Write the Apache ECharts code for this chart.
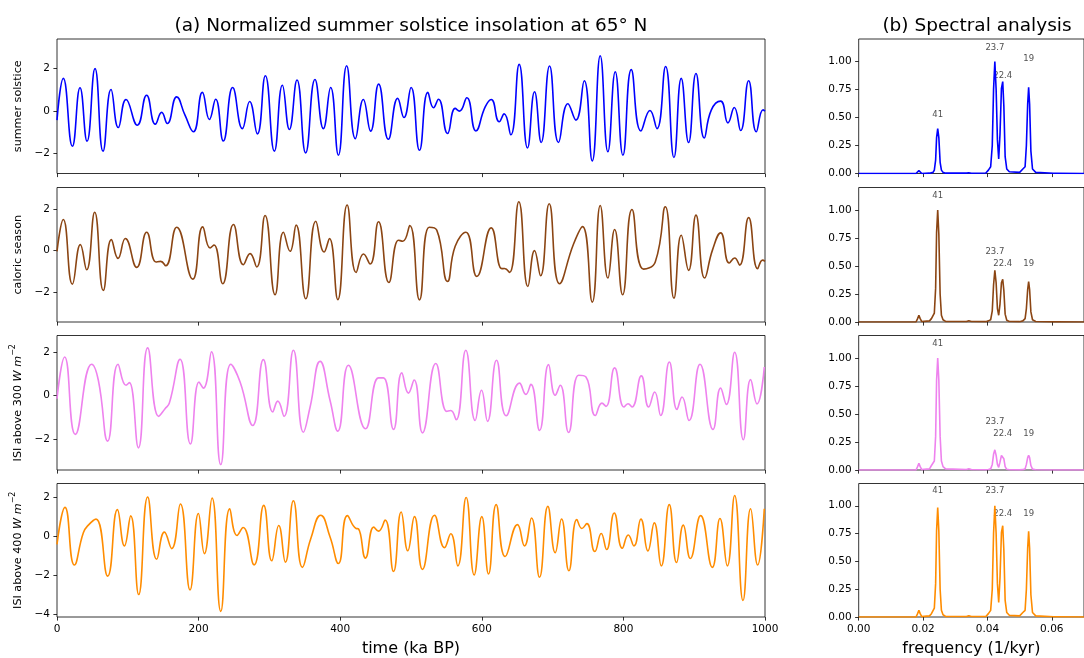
<!DOCTYPE html>
<html>
<head>
<meta charset="utf-8">
<script src="https://cdn.jsdelivr.net/npm/echarts@6/dist/echarts.min.js"></script>
<style>
  html, body { margin: 0; padding: 0; background: #fff; }
  #chart { width: 1084px; height: 658px; }
</style>
</head>
<body>
<div id="chart"></div>
<script>
// time series, read as turning points (ka BP, normalized value)
const solsticeTime = [0, 8.9, 21.7, 32.5, 42.4, 53.7, 65, 76.3, 86.6, 97.5, 113.5, 126.6, 138.9, 147.8, 155.8, 169, 180.8, 192.6, 205.3, 215.2, 224.1, 234.9, 248.1, 261.8, 272.1, 283, 294.3, 307, 318.3, 328.2, 339, 351.2, 364.4, 376.2, 386.5, 397.4, 409.1, 421.4, 432.7, 443, 454.3, 468, 481.2, 490.1, 500.1, 512, 523.8, 531.8, 538.8, 551.6, 562.4, 568.5, 578.9, 591.6, 604.8, 613.3, 624.6, 631.6, 641, 652.8, 664.6, 674.5, 683.9, 695.7, 708.4, 721.6, 732.9, 744.7, 756, 767.3, 778.1, 788.5, 799.3, 811.1, 824.7, 837.5, 847.4, 859.6, 871.4, 881.7, 892.1, 902.5, 914.2, 924.1, 937.3, 947.7, 956.6, 965.6, 976.9, 987.7, 997.1, 1000];
const solsticeValue = [-0.42, 1.54, -1.65, 1.10, -1.41, 2.0, -1.88, 1.02, -0.77, 0.55, -0.66, 0.75, -0.61, -0.06, -0.58, 0.67, -0.19, -0.97, 0.88, -0.39, 0.56, -1.40, 1.11, -0.82, 0.45, -1.07, 1.66, -1.88, 1.22, -0.86, 1.46, -1.96, 1.49, -0.82, 1.11, -2.07, 2.13, -1.29, 0.55, -0.94, 1.27, -1.32, 0.60, -0.30, 1.11, -1.84, 0.88, 0.16, 0.56, -1.05, 0.13, 0.0, 0.63, -0.93, 0.2, 0.55, -0.50, -0.13, -1.11, 2.20, -1.73, 0.91, -1.47, 2.12, -1.47, 0.35, -0.42, 1.43, -2.34, 2.60, -1.91, 1.85, -2.07, 1.95, -0.93, 0.03, -0.82, 2.10, -2.18, 1.54, -1.47, 1.77, -1.26, 0.05, 0.47, -0.55, 0.17, -0.91, 1.43, -0.97, 0.06, 0.0];

const caloricTime = [0, 8.9, 21.7, 33, 41.9, 53.2, 65.4, 76.8, 86.2, 96.5, 112.6, 126.7, 139.9, 146.5, 153.5, 169.1, 191.7, 205.8, 216.2, 221.8, 234.1, 249.2, 263.3, 272.7, 282.1, 293.9, 308, 319.8, 329.2, 337.7, 351.4, 365.5, 377.3, 384.8, 396.6, 409.8, 422.5, 432.9, 442.3, 454.1, 468.7, 482.3, 488.5, 498.3, 512, 525.6, 536.4, 551.6, 562.4, 577.4, 593, 613.3, 628.3, 632.1, 639.2, 652.3, 665.1, 674.5, 683, 695.2, 709.8, 729.6, 742.3, 756, 767.3, 778.1, 787.6, 798.9, 812.1, 828.5, 845, 859.2, 871.4, 881.7, 892.1, 902.5, 914.7, 926, 937.3, 949.5, 957.1, 964.1, 976.9, 989.6, 996.6, 1000];
const caloricValue = [-0.03, 1.49, -1.60, 0.29, -0.91, 1.84, -1.90, 0.53, -0.37, 0.58, -0.80, 0.88, -0.54, -0.51, -0.72, 1.12, -1.36, 1.14, 0.13, 0.27, -1.58, 1.25, -0.67, -0.14, -0.78, 1.68, -2.11, 0.88, -0.03, 1.22, -2.30, 1.41, -0.06, 0.58, -2.34, 2.18, -1.04, -0.16, -0.64, 1.38, -1.52, 0.50, 0.45, 1.20, -2.35, 1.12, 0.98, -1.47, 0.21, 0.88, -1.23, 1.09, -0.86, -0.85, -1.04, 2.34, -1.71, 0.0, -1.20, 2.24, -1.58, 0.32, 1.15, -2.46, 2.16, -1.31, 1.01, -2.11, 1.97, -0.88, -0.54, 2.10, -2.27, 0.74, -0.94, 1.70, -1.31, 0.05, 0.85, -0.59, -0.35, -0.69, 1.58, -0.86, -0.45, -0.51];

const isi300Time = [0, 10.8, 25.9, 49, 58.4, 71.6, 86.2, 97.5, 102.2, 115, 128.1, 143.7, 152.6, 158.7, 173.8, 188.4, 200.6, 206.8, 218.1, 231.3, 245.4, 258.6, 276.5, 291.5, 304.7, 311.8, 320.7, 333.9, 348, 357.5, 371.6, 385.7, 396.6, 411.6, 435.7, 454.1, 461.1, 475.3, 487, 496.4, 504.4, 516.2, 535, 550.6, 556.2, 563.8, 577.4, 590.6, 599.6, 608.1, 620.8, 634.5, 653.3, 662.3, 669.3, 681.6, 694.3, 703.7, 710.8, 722.6, 736.7, 747.1, 760.3, 769.7, 775.4, 787.6, 800.8, 806.5, 812.1, 825.3, 835.7, 844.2, 852.6, 864.9, 875.7, 882.8, 892.7, 908.2, 926.6, 937.3, 945.4, 957.1, 969.4, 979.7, 988.7, 999];
const isi300Value = [-0.14, 1.78, -1.78, 1.45, 0.71, -2.09, 1.45, 0.48, 0.60, -2.40, 2.20, -0.95, -0.6, -0.34, 1.68, -2.22, 0.63, 0.35, 2.02, -3.17, 1.45, 0.63, -1.37, 1.66, -0.75, -0.25, -0.95, 2.09, -1.68, -0.52, 1.58, -0.22, -1.63, 1.40, -1.52, 0.82, 0.82, -1.55, 1.05, 0.12, 0.72, -1.71, 1.48, -0.72, -0.68, -1.11, 2.09, -1.14, 0.25, -1.18, 1.63, -0.92, 0.58, 0.06, 0.52, -1.60, 1.43, 0.02, 0.48, -1.69, 0.94, 0.86, -0.91, -0.34, -0.49, 1.28, -0.52, -0.37, -0.52, 0.91, -0.52, 0.17, -0.91, 1.55, -0.63, -0.06, -1.14, 1.45, -1.55, 0.35, -0.40, 2.00, -2.03, 0.74, -0.38, 1.32];

const isi400Time = [0, 11.3, 24.5, 37.2, 44.3, 55.1, 71.6, 85.3, 95.2, 104.1, 115.4, 128.1, 140.8, 151.7, 162, 174.3, 187.9, 199.7, 208.2, 219, 231.3, 244, 254.3, 262.8, 278.4, 292, 303.3, 313.2, 322.6, 333.9, 346.6, 358.4, 372.5, 385.7, 397.5, 410.2, 422.4, 425.8, 435.7, 447.4, 454, 463.5, 475.3, 486.1, 495.5, 504.9, 516.2, 533.2, 547.3, 556.2, 566.1, 577.9, 589.2, 600, 609.5, 620.3, 633, 650.4, 660.3, 670.2, 681.5, 693.3, 703.7, 712.6, 723, 734.3, 741.4, 748.4, 759.7, 768.7, 776.2, 787.1, 798.4, 806.9, 814.9, 824.7, 834.6, 843.6, 853.5, 864.8, 875.1, 884.6, 894.5, 909.1, 925.6, 936.4, 946.8, 957.1, 968.9, 979.7, 989.6, 999];
const isi400Value = [-0.41, 1.50, -1.48, 0.19, 0.58, 0.89, -2.05, 1.38, -0.49, 1.06, -3.0, 2.03, -1.18, 0.22, -0.63, 1.67, -2.76, 1.18, -0.89, 1.98, -3.87, 1.43, 0.05, 0.46, -1.47, 1.60, -1.26, 0.56, -1.33, 1.84, -1.60, -0.12, 1.09, -0.03, -1.40, 1.07, 0.41, 0.39, -1.12, 0.48, 0.27, 0.84, -1.81, 1.26, -0.74, 1.02, -1.70, 1.09, -0.58, 0.14, -1.52, 2.01, -1.99, 1.02, -1.94, 1.64, -1.04, 0.61, -0.49, 0.95, -2.11, 1.55, -0.84, 0.90, -1.77, 0.87, 0.41, 0.66, -0.78, 0.15, -0.68, 1.21, -0.61, 0.07, -0.49, 0.89, -0.75, 0.70, -1.52, 1.64, -1.35, 0.58, -1.14, 1.07, -1.60, 0.92, -1.52, 2.11, -3.31, 1.43, -1.48, 1.43];

// spectra (frequency in 1/kyr, normalized power)
const specFreq = [0, 0.0178, 0.0183, 0.0187, 0.0191, 0.0196, 0.0220, 0.0226, 0.0231, 0.0235, 0.0239, 0.0242, 0.02455, 0.0249, 0.0253, 0.0257, 0.0262, 0.0270, 0.0335, 0.0342, 0.0350, 0.0395, 0.0403, 0.0410, 0.0415, 0.0419, 0.0423, 0.0427, 0.0431, 0.0435, 0.0439, 0.04435, 0.04475, 0.0451, 0.0455, 0.0460, 0.0468, 0.0500, 0.0510, 0.0517, 0.0521, 0.0525, 0.0528, 0.0531, 0.0535, 0.0540, 0.0550, 0.0605, 0.0610, 0.0616, 0.0700];
const specSolstice = [0, 0, 0.012, 0.025, 0.012, 0, 0.003, 0.005, 0.01, 0.03, 0.12, 0.32, 0.40, 0.32, 0.10, 0.03, 0.01, 0.003, 0.003, 0.006, 0.002, 0.005, 0.03, 0.06, 0.25, 0.75, 1.0, 0.75, 0.30, 0.13, 0.35, 0.76, 0.82, 0.60, 0.15, 0.04, 0.015, 0.01, 0.04, 0.06, 0.25, 0.62, 0.77, 0.62, 0.20, 0.04, 0.01, 0.002, 0.006, 0.002, 0];
const specCaloric = [0, 0, 0.03, 0.06, 0.03, 0.003, 0.01, 0.03, 0.04, 0.08, 0.30, 0.80, 1.0, 0.78, 0.25, 0.06, 0.02, 0.005, 0.005, 0.012, 0.004, 0.003, 0.01, 0.02, 0.10, 0.33, 0.46, 0.35, 0.12, 0.06, 0.16, 0.35, 0.38, 0.28, 0.07, 0.015, 0.005, 0.003, 0.01, 0.03, 0.12, 0.29, 0.36, 0.29, 0.09, 0.02, 0.005, 0.001, 0.003, 0.001, 0];
const specIsi300 = [0, 0, 0.03, 0.06, 0.03, 0.003, 0.01, 0.04, 0.045, 0.08, 0.30, 0.80, 1.0, 0.80, 0.30, 0.08, 0.03, 0.01, 0.005, 0.012, 0.004, 0.002, 0.005, 0.01, 0.05, 0.14, 0.18, 0.13, 0.05, 0.024, 0.07, 0.13, 0.14, 0.10, 0.03, 0.006, 0.002, 0.001, 0.003, 0.01, 0.05, 0.11, 0.13, 0.11, 0.04, 0.008, 0.002, 0, 0.002, 0, 0];
const specIsi400 = [0, 0, 0.03, 0.06, 0.03, 0.003, 0.01, 0.03, 0.04, 0.08, 0.30, 0.78, 0.985, 0.77, 0.25, 0.06, 0.02, 0.005, 0.005, 0.012, 0.004, 0.005, 0.03, 0.06, 0.25, 0.75, 1.0, 0.75, 0.30, 0.13, 0.35, 0.76, 0.82, 0.60, 0.15, 0.04, 0.015, 0.01, 0.04, 0.06, 0.25, 0.62, 0.77, 0.62, 0.20, 0.04, 0.01, 0.002, 0.006, 0.002, 0];

// period annotations (kyr) and where their text sits in each panel
const peakNames = ['41', '23.7', '22.4', '19'];
const peakFreqs = [0.02455, 0.0423, 0.04475, 0.0528];
const labelYSolstice = [0.52, 1.125, 0.87, 1.02];
const labelYCaloric = [1.13, 0.63, 0.52, 0.52];
const labelYIsi300 = [1.13, 0.43, 0.32, 0.32];
const labelYIsi400 = [1.13, 1.13, 0.93, 0.93];

const FONT = 'DejaVu Sans';
const colors = ['#0000ff', '#8b4513', '#ee82ee', '#ff8c00'];
const panelTops = [39, 187.5, 335.5, 483.5];
const panelHeight = 134.5;
const yRanges = [[-2.93, 3.39], [-3.41, 3.02], [-3.42, 2.77], [-4.16, 2.73]];
const yTickValues = [[-2, 0, 2], [-2, 0, 2], [-2, 0, 2], [-4, -2, 0, 2]];
const yNames = [
    'summer solstice',
    'caloric season',
    'ISI above 300 {i|W} {i|m}{s|−2}',
    'ISI above 400 {i|W} {i|m}{s|−2}',
];

const timeSeries = [
    [solsticeTime, solsticeValue],
    [caloricTime, caloricValue],
    [isi300Time, isi300Value],
    [isi400Time, isi400Value],
];
const spectra = [specSolstice, specCaloric, specIsi300, specIsi400];
const labelYs = [labelYSolstice, labelYCaloric, labelYIsi300, labelYIsi400];

const zip = (a, b) => a.map((v, i) => [v, b[i]]);
const minus = (v) => (v < 0 ? '\u2212' + Math.abs(v) : String(v));

const tickStyle = { show: true, length: 3.6, lineStyle: { color: '#000', width: 0.8 } };
const labelStyle = { fontFamily: FONT, fontSize: 10.5, color: '#000' };
const noLine = { show: false, onZero: false };

const grids = [];
const xAxes = [];
const yAxes = [];
const series = [];

for (let i = 0; i < 4; i++) {
    const isLast = i === 3;
    const border = { show: true, borderColor: '#000', borderWidth: 0.8, backgroundColor: 'transparent' };
    grids.push({ left: 57, width: 708, top: panelTops[i], height: panelHeight, ...border });
    grids.push({ left: 858.7, width: 235.7, top: panelTops[i], height: panelHeight, ...border });

    // left: time series
    xAxes.push({
        gridIndex: 2 * i,
        type: 'value',
        min: 0,
        max: 1000,
        interval: 200,
        axisLine: noLine,
        axisTick: tickStyle,
        axisLabel: { show: isLast, margin: 7, formatter: (v) => String(v), ...labelStyle },
        splitLine: { show: false },
        name: isLast ? 'time (ka BP)' : '',
        nameLocation: 'middle',
        nameGap: 24,
        nameTextStyle: { fontFamily: FONT, fontSize: 16, color: '#000' },
    });
    yAxes.push({
        gridIndex: 2 * i,
        type: 'value',
        min: yRanges[i][0],
        max: yRanges[i][1],
        axisLine: noLine,
        axisTick: { ...tickStyle, customValues: yTickValues[i] },
        axisLabel: { margin: 7, customValues: yTickValues[i], formatter: minus, ...labelStyle },
        splitLine: { show: false },
        name: yNames[i],
        nameLocation: 'middle',
        nameRotate: 90,
        nameGap: 30,
        nameTextStyle: {
            fontFamily: FONT,
            fontSize: 11.2,
            color: '#000',
            rich: {
                i: { fontFamily: FONT, fontSize: 11.2, fontStyle: 'italic', color: '#000' },
                s: { fontFamily: FONT, fontSize: 8, color: '#000', verticalAlign: 'top', lineHeight: 18 },
            },
        },
    });

    // right: spectra
    xAxes.push({
        gridIndex: 2 * i + 1,
        type: 'value',
        min: 0,
        max: 0.07,
        axisLine: noLine,
        axisTick: { ...tickStyle, customValues: [0, 0.02, 0.04, 0.06] },
        axisLabel: {
            show: isLast,
            margin: 7,
            customValues: [0, 0.02, 0.04, 0.06],
            formatter: (v) => v.toFixed(2),
            ...labelStyle,
        },
        splitLine: { show: false },
        name: isLast ? 'frequency (1/kyr)' : '',
        nameLocation: 'middle',
        nameGap: 24,
        nameTextStyle: { fontFamily: FONT, fontSize: 16, color: '#000' },
    });
    yAxes.push({
        gridIndex: 2 * i + 1,
        type: 'value',
        min: 0,
        max: 1.2,
        axisLine: noLine,
        axisTick: { ...tickStyle, customValues: [0, 0.25, 0.5, 0.75, 1] },
        axisLabel: {
            margin: 7,
            customValues: [0, 0.25, 0.5, 0.75, 1],
            formatter: (v) => v.toFixed(2),
            ...labelStyle,
        },
        splitLine: { show: false },
    });

    series.push({
        type: 'line',
        xAxisIndex: 2 * i,
        yAxisIndex: 2 * i,
        data: zip(timeSeries[i][0], timeSeries[i][1]),
        smooth: 0.5,
        showSymbol: false,
        lineStyle: { color: colors[i], width: 1.6 },
        animation: false,
    });
    series.push({
        type: 'line',
        xAxisIndex: 2 * i + 1,
        yAxisIndex: 2 * i + 1,
        data: zip(specFreq, spectra[i]),
        showSymbol: false,
        lineStyle: { color: colors[i], width: 1.6 },
        animation: false,
    });
    series.push({
        type: 'scatter',
        xAxisIndex: 2 * i + 1,
        yAxisIndex: 2 * i + 1,
        symbolSize: 1,
        itemStyle: { color: 'transparent' },
        data: peakNames.map((n, k) => ({ name: n, value: [peakFreqs[k], labelYs[i][k]] })),
        label: {
            show: true,
            position: 'inside',
            formatter: '{b}',
            fontFamily: FONT,
            fontSize: 8.5,
            color: '#222',
        },
        animation: false,
        silent: true,
    });
}

const chart = echarts.init(document.getElementById('chart'), null, { renderer: 'canvas' });
chart.setOption({
    backgroundColor: '#fff',
    animation: false,
    grid: grids,
    xAxis: xAxes,
    yAxis: yAxes,
    series: series,
    graphic: [
        {
            type: 'text',
            x: 411,
            y: 26,
            style: {
                text: '(a) Normalized summer solstice insolation at 65° N',
                fontFamily: FONT,
                fontSize: 18.5,
                fill: '#000',
                align: 'center',
                verticalAlign: 'middle',
            },
        },
        {
            type: 'text',
            x: 977,
            y: 26,
            style: {
                text: '(b) Spectral analysis',
                fontFamily: FONT,
                fontSize: 18.5,
                fill: '#000',
                align: 'center',
                verticalAlign: 'middle',
            },
        },
    ],
});
</script>
</body>
</html>
